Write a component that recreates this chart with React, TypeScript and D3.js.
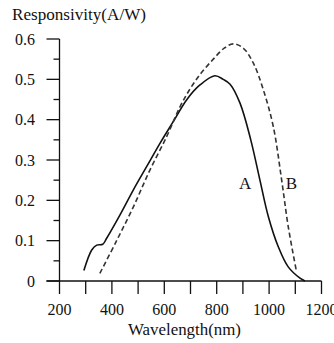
import { useEffect, useRef } from "react"
import * as d3 from "d3"

// curve A (solid) - wavelength nm / responsivity A/W
const waveA = [293, 323, 342, 365, 380, 431, 482, 533, 584, 634, 685, 736, 793, 825, 851, 889, 930, 965, 997, 1035, 1073, 1118, 1137]
const respA = [0.026, 0.077, 0.089, 0.091, 0.106, 0.164, 0.226, 0.284, 0.342, 0.395, 0.449, 0.486, 0.509, 0.5, 0.488, 0.441, 0.35, 0.25, 0.16, 0.085, 0.035, 0.007, 0]

// curve B (dashed)
const waveB = [354, 418, 482, 545, 609, 660, 700, 740, 787, 830, 863, 902, 940, 978, 1016, 1048, 1073, 1105]
const respB = [0.019, 0.1, 0.184, 0.275, 0.358, 0.432, 0.478, 0.515, 0.55, 0.578, 0.588, 0.577, 0.54, 0.474, 0.383, 0.25, 0.135, 0.022]

const xTicks = [200, 300, 400, 500, 600, 700, 800, 900, 1000, 1100, 1200]
const xLabels = ["200", "400", "600", "800", "1000", "1200"]
const yTicks = [0, 0.1, 0.2, 0.3, 0.4, 0.5, 0.6]
const yMinor = [0.05, 0.15, 0.25, 0.35, 0.45, 0.55]
const yLabels = ["0", "0.1", "0.2", "0.3", "0.4", "0.5", "0.6"]

export default function App() {
  const svgRef = useRef<SVGSVGElement>(null)

  useEffect(() => {
    if (!svgRef.current) return
    const svg = d3.select(svgRef.current)
    svg.selectAll("*").remove()

    const font = "'Liberation Serif', 'Times New Roman', serif"
    const x = d3.scaleLinear().domain([200, 1200]).range([59.5, 321.5])
    const y = d3.scaleLinear().domain([0, 0.6]).range([281, 39])

    // axes
    svg.append("line")
      .attr("x1", x(200)).attr("x2", x(200))
      .attr("y1", y(0.6)).attr("y2", y(0))
      .attr("stroke", "#111").attr("stroke-width", 1.3)
    svg.append("line")
      .attr("x1", x(200) - 13).attr("x2", x(1200))
      .attr("y1", y(0)).attr("y2", y(0))
      .attr("stroke", "#111").attr("stroke-width", 1.3)

    svg.append("g").selectAll("line").data(yTicks).join("line")
      .attr("x1", x(200) - 13).attr("x2", x(200))
      .attr("y1", (d) => y(d)).attr("y2", (d) => y(d))
      .attr("stroke", "#111").attr("stroke-width", 1.3)
    svg.append("g").selectAll("line").data(yMinor).join("line")
      .attr("x1", x(200) - 6).attr("x2", x(200))
      .attr("y1", (d) => y(d)).attr("y2", (d) => y(d))
      .attr("stroke", "#111").attr("stroke-width", 1.3)
    svg.append("g").selectAll("line").data(xTicks).join("line")
      .attr("x1", (d) => x(d)).attr("x2", (d) => x(d))
      .attr("y1", y(0)).attr("y2", y(0) + 13)
      .attr("stroke", "#111").attr("stroke-width", 1.3)

    svg.append("g").selectAll("text").data(yTicks).join("text")
      .attr("x", 35).attr("y", (d) => y(d) + 5.5)
      .attr("text-anchor", "end")
      .style("font-family", font).style("font-size", "16px").attr("fill", "#111")
      .text((d, i) => yLabels[i])
    svg.append("g").selectAll("text").data(xLabels).join("text")
      .attr("x", (d) => x(+d)).attr("y", 315)
      .attr("text-anchor", "middle")
      .style("font-family", font).style("font-size", "16px").attr("fill", "#111")
      .text((d) => d)

    svg.append("text")
      .attr("x", 12).attr("y", 20)
      .attr("textLength", 134).attr("lengthAdjust", "spacingAndGlyphs")
      .style("font-family", font).style("font-size", "16px").attr("fill", "#111")
      .text("Responsivity(A/W)")
    svg.append("text")
      .attr("x", 128).attr("y", 335)
      .attr("textLength", 113).attr("lengthAdjust", "spacingAndGlyphs")
      .style("font-family", font).style("font-size", "16px").attr("fill", "#111")
      .text("Wavelength(nm)")

    const line = d3.line<number>().curve(d3.curveCatmullRom.alpha(0.5))

    svg.append("path")
      .attr("d", line.x((d, i) => x(waveA[i])).y((d) => y(d))(respA))
      .attr("fill", "none").attr("stroke", "#111").attr("stroke-width", 1.6)
    svg.append("path")
      .attr("d", line.x((d, i) => x(waveB[i])).y((d) => y(d))(respB))
      .attr("fill", "none").attr("stroke", "#333").attr("stroke-width", 1.6)
      .attr("stroke-dasharray", "5,3")

    svg.append("text")
      .attr("x", x(909)).attr("y", y(0.228))
      .attr("text-anchor", "middle")
      .style("font-family", font).style("font-size", "17px").attr("fill", "#111")
      .text("A")
    svg.append("text")
      .attr("x", x(1085)).attr("y", y(0.228))
      .attr("text-anchor", "middle")
      .style("font-family", font).style("font-size", "17px").attr("fill", "#111")
      .text("B")
  }, [])

  return (
    <svg
      ref={svgRef}
      width={334}
      height={343}
      style={{ position: "absolute", left: 0, top: 0, background: "#fff" }}
    />
  )
}
